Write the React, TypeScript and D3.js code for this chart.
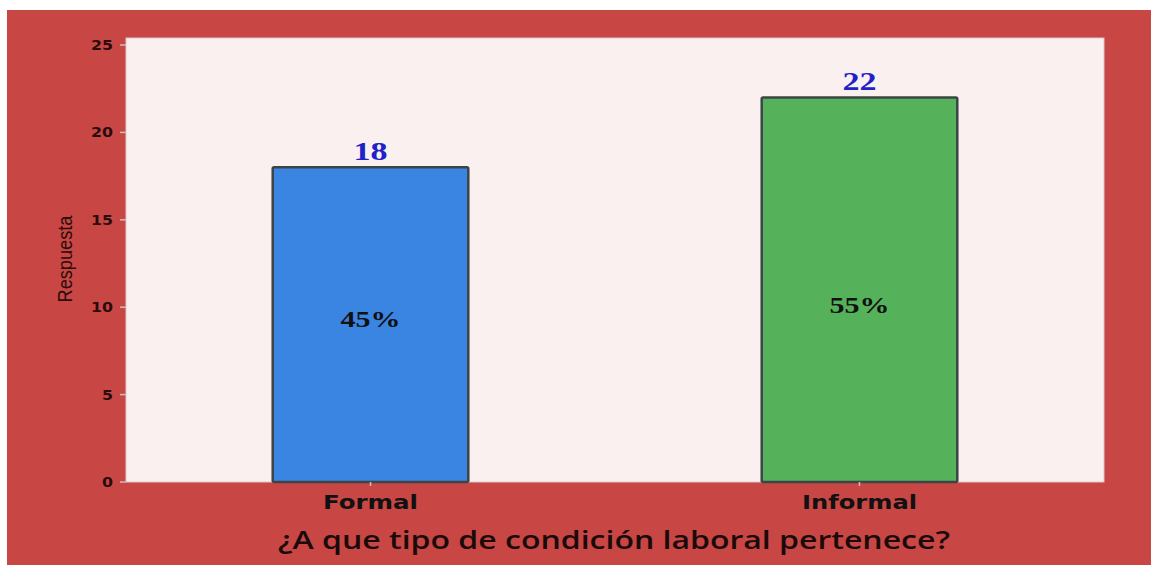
import React from "react";
import * as d3 from "d3";

const categories = ["Formal", "Informal"];
const counts = [18, 22];
const percents = ["45%", "55%"];
const percentLabelY = [9.3, 10.1];
const barColors = ["#3A84E2", "#55B25A"];
const yTicks = [0, 5, 10, 15, 20, 25];
const yLabel = "Respuesta";
const xTitle = "¿A que tipo de condición laboral pertenece?";

const W = 1151;
const H = 565;
const plot = { left: 126, top: 38, right: 1104, bottom: 482 };
const catLabelWidths = [95, 115];

export default function App() {
  const x = d3
    .scaleBand<string>()
    .domain(categories)
    .range([plot.left, plot.right])
    .paddingInner(0.6)
    .paddingOuter(0.3);
  const y = d3.scaleLinear().domain([0, 25]).range([plot.bottom, plot.bottom - 437]);

  return (
    <svg width={W} height={H} style={{ position: "absolute", left: 0, top: 0 }}>
      <rect x={0} y={0} width={W} height={H} fill="#ffffff" />
      <rect x={7} y={10} width={W - 7} height={H - 10} fill="#C84644" />
      <rect
        x={plot.left}
        y={plot.top}
        width={plot.right - plot.left}
        height={plot.bottom - plot.top}
        fill="#FAF0F0"
        stroke="#d8c8c8"
        strokeWidth={1}
      />
      {yTicks.map((t) => (
        <g key={t}>
          <line x1={plot.left - 6} x2={plot.left} y1={y(t)} y2={y(t)} stroke="#cfbcbc" strokeWidth={1.5} />
          <text
            x={113}
            y={y(t) + 5}
            textAnchor="end"
            fontFamily="DejaVu Sans"
            fontWeight="bold"
            fontSize={14}
            fill="#2a0c0c"
            textLength={t >= 10 ? 22 : 11}
            lengthAdjust="spacingAndGlyphs"
          >
            {t}
          </text>
        </g>
      ))}
      <text
        transform={`translate(72,259) rotate(-90)`}
        textAnchor="middle"
        fontFamily="Liberation Sans Narrow, Liberation Sans"
        fontSize={20}
        fill="#2a0c0c"
        textLength={87}
        lengthAdjust="spacingAndGlyphs"
      >
        {yLabel}
      </text>
      {categories.map((c, i) => {
        const bx = x(c)!;
        const bw = x.bandwidth();
        const cx = bx + bw / 2;
        return (
          <g key={c}>
            <rect
              x={bx}
              y={y(counts[i])}
              width={bw}
              height={y(0) - y(counts[i])}
              fill={barColors[i]}
              stroke="#3d4448"
              strokeWidth={2.5}
              rx={1.5}
            />
            <text
              x={cx}
              y={y(counts[i]) - 7}
              textAnchor="middle"
              fontFamily="Liberation Serif"
              fontWeight="bold"
              fontSize={26}
              fill="#1f22c8"
              textLength={34}
              lengthAdjust="spacingAndGlyphs"
            >
              {counts[i]}
            </text>
            <text
              x={cx}
              y={y(percentLabelY[i]) + 8}
              textAnchor="middle"
              fontFamily="Liberation Serif"
              fontWeight="bold"
              fontSize={23}
              fill="#111111"
              textLength={60}
              lengthAdjust="spacingAndGlyphs"
            >
              {percents[i]}
            </text>
            <line x1={cx} x2={cx} y1={plot.bottom} y2={plot.bottom + 4} stroke="#cfbcbc" strokeWidth={1.5} />
            <text
              x={cx}
              y={509}
              textAnchor="middle"
              fontFamily="DejaVu Sans"
              fontWeight="bold"
              fontSize={19}
              fill="#111111"
              textLength={catLabelWidths[i]}
              lengthAdjust="spacingAndGlyphs"
            >
              {c}
            </text>
          </g>
        );
      })}
      <text
        x={614}
        y={549}
        textAnchor="middle"
        fontFamily="Open Sans, DejaVu Sans"
        fontWeight={600}
        fontSize={25}
        fill="#1a0a0a"
        textLength={672}
        lengthAdjust="spacingAndGlyphs"
      >
        {xTitle}
      </text>
    </svg>
  );
}
